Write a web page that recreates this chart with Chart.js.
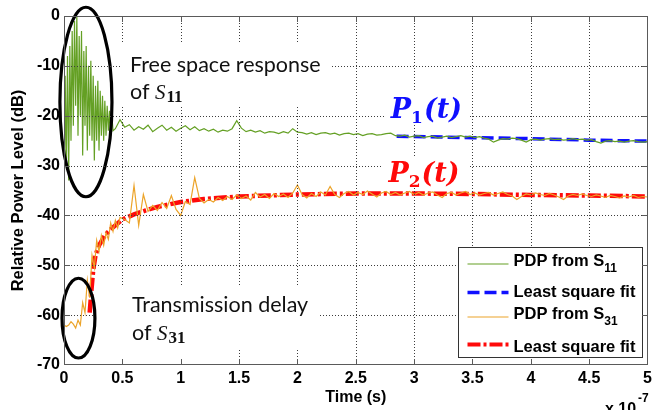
<!DOCTYPE html>
<html lang="en">
<head>
<meta charset="UTF-8">
<title>Power delay profile</title>
<script src="https://cdn.jsdelivr.net/npm/chart.js@4"></script>
<style>
  html, body { margin: 0; padding: 0; background: #fff; }
  #wrap { width: 656px; height: 410px; }
</style>
</head>
<body>
<div id="wrap"><canvas id="pdp" width="656" height="410"></canvas></div>
<script>
// ---- data (time in units of 1e-7 s, level in dB) ----

// PDP from S11: dense ringing near t = 0, sampled every 0.01
const s11EarlyStart = 0, s11EarlyStep = 0.01;
const s11Early = [-43, -12, -30, -8, -33, -6, -25, -3, -22, -1,
  -18, 0, -24, -4, -20, -3, -28, -7, -22, -6,
  -27, -10, -24, -9, -25, -12, -29, -14, -25, -13,
  -27, -15, -24, -16, -25, -17, -24, -18, -23, -19,
  -24, -20, -23];
// rest of the S11 trace, sampled every 0.04
const s11TailStart = 0.44, s11TailStep = 0.04;
const s11Tail = [
  -22.6, -20.8, -22.3, -21.8, -22.9, -22.2, -22.7, -21.9, -23.2, -22.5,
  -21.9, -22.9, -22.3, -23.1, -22.5, -22.0, -22.8, -22.2, -23.0, -22.6,
  -23.1, -22.7, -23.3, -22.9, -23.1, -22.6, -21.0, -22.5, -23.2, -22.9,
  -23.3, -23.0, -23.5, -23.2, -23.3, -23.6, -23.2, -23.5, -22.6, -23.3,
  -23.4, -23.7, -23.4, -23.8, -23.5, -23.4, -23.7, -23.5, -23.9, -23.6,
  -23.5, -23.8, -23.6, -24.0, -23.7, -23.6, -23.9, -23.8, -23.6, -23.5,
  -24.0, -24.1, -23.9, -24.3, -24.1, -24.0, -24.4, -24.2, -24.1, -24.5,
  -24.3, -24.1, -24.4, -24.2, -24.0, -24.3, -24.1, -24.4, -24.2, -24.5,
  -24.7, -25.3, -24.9, -24.6, -24.7, -24.5, -24.6, -24.9, -25.3, -24.8,
  -24.7, -24.9, -24.7, -24.6, -24.8, -24.7, -24.9, -24.8, -24.6, -24.8,
  -24.7, -24.9, -24.8, -25.2, -25.5, -25.1, -25.0, -25.2, -25.1, -25.3,
  -25.1, -25.0, -25.2, -25.3, -25.2];

// PDP from S31: transmission delay then rise, sampled every 0.02
const s31EarlyStart = 0, s31EarlyStep = 0.02;
const s31Early = [-62.0, -62.3, -62.0, -61.3, -61.8, -62.6, -61.0, -62.0, -57.5, -59.5,
  -53.0, -56.5, -48.0, -50.5, -45.0, -47.2, -44.0, -46.0, -43.5, -44.8,
  -41.5, -43.2, -41.0, -42.5, -40.4];
const s31TailStart = 0.52, s31TailStep = 0.04;
const s31Tail = [
  -40.8, -41.5, -34.0, -42.0, -35.8, -39.2, -38.0, -39.0, -37.4, -38.6,
  -36.0, -38.8, -40.0, -37.2, -37.8, -32.4, -36.6, -37.5, -36.8, -37.3,
  -36.4, -37.0, -36.2, -36.8, -35.9, -36.6, -36.1, -36.9, -35.4, -36.3,
  -35.8, -36.6, -35.6, -36.2, -35.7, -36.4, -35.5, -33.9, -35.8, -36.5,
  -35.6, -36.2, -35.3, -35.9, -34.2, -35.8, -36.4, -35.6, -35.2, -35.9,
  -35.4, -35.8, -35.1, -35.7, -36.3, -35.5, -35.2, -35.8, -35.4, -35.9,
  -35.5, -35.2, -35.8, -35.4, -35.9, -35.5, -35.3, -35.9, -36.4, -35.6,
  -35.4, -35.9, -35.5, -35.2, -35.8, -35.5, -35.9, -35.6, -35.4, -35.9,
  -35.6, -35.3, -35.8, -36.1, -36.8, -36.2, -35.7, -35.9, -35.5, -35.8,
  -36.0, -35.6, -35.9, -36.3, -36.8, -36.1, -35.8, -36.0, -35.7, -36.0,
  -36.2, -35.9, -36.1, -36.4, -36.0, -36.2, -36.5, -36.1, -36.3, -36.0,
  -36.4, -36.2, -36.3];

// least square fits
const fit1Time = [2.85, 3.5, 4.0, 4.5, 5.0];
const fit1Values = [-24.1, -24.4, -24.6, -24.9, -25.1];
const fit2Time = [0.22, 0.235, 0.25, 0.27, 0.3, 0.35, 0.4, 0.5, 0.6, 0.7, 0.8, 1.0, 1.2, 1.5, 2.0, 2.5, 3.0, 3.5, 4.0, 4.5, 5.0];
const fit2Values = [-59.5, -55, -51, -48, -46, -44, -42.8, -40.8, -39.8, -39, -38.3, -37.3, -36.7, -36.2, -35.8, -35.6, -35.6, -35.7, -35.9, -36.0, -36.2];

const GREEN = '#64a024';
const ORANGE = '#eca42a';
const BLUE = '#1010ff';
const RED = '#ff0a0a';
const AXIS_FONT = { family: '"Liberation Sans", Arial, sans-serif', size: 16, weight: 'bold' };
const SANS = '"Lato", "Open Sans", sans-serif';

// text boxes with white background (data coords: x0, y0, x1, y1)
const textBoxes = [
  [0.479, -5.4, 2.295, -18.25],
  [0.265, -54.35, 2.175, -66.6],
  [0.265, -54.35, 1.2, -70],
  [2.748, -14.8, 3.459, -21.7],
  [2.731, -28.1, 3.459, -34.1]
];

function sampled(start, step, values) {
  return values.map((v, i) => ({ x: +(start + i * step).toFixed(3), y: v }));
}
function paired(times, values) {
  return times.map((t, i) => ({ x: t, y: values[i] }));
}

function drawRuns(ctx, x, y, runs) {
  ctx.textAlign = 'left';
  for (const r of runs) {
    ctx.font = r.font;
    ctx.fillStyle = r.color || '#000';
    ctx.fillText(r.text, x, y + (r.dy || 0));
    x += ctx.measureText(r.text).width + (r.gap || 0);
  }
}

function legendRectOf(chart) {
  const a = chart.chartArea, w = 184, h = 110;
  return { x: Math.round(a.right - 6 - w) + 0.5, y: Math.round(a.bottom - 8 - h) + 0.5, w, h };
}

// dotted grid as single pixels, leaving out the text boxes and the legend
function drawGrid(chart, legend) {
  const { ctx, chartArea: a, scales: { x: xs, y: ys } } = chart;
  const holes = textBoxes.map(([x0, y0, x1, y1]) => ({
    l: xs.getPixelForValue(x0), r: xs.getPixelForValue(x1),
    t: ys.getPixelForValue(y0), b: ys.getPixelForValue(y1)
  }));
  holes.push({ l: legend.x - 1, r: legend.x + legend.w + 1, t: legend.y - 1, b: legend.y + legend.h + 1 });
  const hidden = (px, py) => holes.some(h => px >= h.l && px <= h.r && py >= h.t && py <= h.b);
  const L = Math.round(a.left), R = Math.round(a.right), T = Math.round(a.top), B = Math.round(a.bottom);
  ctx.save();
  ctx.fillStyle = '#3c3c3c';
  xs.ticks.forEach(t => {
    if (t.value <= xs.min || t.value >= xs.max) return;
    const px = Math.round(xs.getPixelForValue(t.value));
    for (let py = T + 1; py < B - 1; py += 3) if (!hidden(px, py)) ctx.fillRect(px, py, 1, 1);
  });
  ys.ticks.forEach(t => {
    if (t.value <= ys.min || t.value >= ys.max) return;
    const py = Math.round(ys.getPixelForValue(t.value));
    for (let px = L + 1; px < R - 1; px += 3) if (!hidden(px, py)) ctx.fillRect(px, py, 1, 1);
  });
  ctx.restore();
}

// frame with inward tick marks on all four sides
function drawFrame(chart) {
  const { ctx, chartArea: a, scales: { x: xs, y: ys } } = chart;
  const L = Math.round(a.left), R = Math.round(a.right), T = Math.round(a.top), B = Math.round(a.bottom);
  ctx.save();
  ctx.fillStyle = '#5a5a5a';
  ctx.fillRect(L, T, R - L, 1);
  ctx.fillRect(L, B - 1, R - L, 1);
  ctx.fillRect(L, T, 1, B - T);
  ctx.fillRect(R - 1, T, 1, B - T);
  xs.ticks.forEach(t => {
    const px = Math.round(xs.getPixelForValue(t.value));
    ctx.fillRect(Math.min(px, R - 1), B - 6, 1, 6);
    ctx.fillRect(Math.min(px, R - 1), T, 1, 6);
  });
  ys.ticks.forEach(t => {
    const py = Math.round(ys.getPixelForValue(t.value));
    ctx.fillRect(L, Math.min(py, B - 1), 6, 1);
    ctx.fillRect(R - 6, Math.min(py, B - 1), 6, 1);
  });
  ctx.restore();
}

function drawAnnotations(chart) {
  const { ctx, scales: { x: xs, y: ys } } = chart;
  const X = v => xs.getPixelForValue(v), Y = v => ys.getPixelForValue(v);
  ctx.save();
  ctx.setLineDash([]);
  ctx.strokeStyle = '#000';
  ctx.lineWidth = 3.2;
  const ellipses = [[0.188, -17.25, 0.223, 19.0], [0.124, -60.6, 0.141, 8.0]];
  ellipses.forEach(([cx, cy, rx, ry]) => {
    ctx.beginPath();
    ctx.ellipse(X(cx), Y(cy), X(cx + rx) - X(cx), Y(cy - ry) - Y(cy), 0, 0, Math.PI * 2);
    ctx.stroke();
  });
  ctx.textBaseline = 'alphabetic';
  const body = '21.5px ' + SANS;
  const sItal = 'italic 21px "Liberation Serif", serif';
  const sSub = 'bold 17px "Liberation Serif", serif';
  drawRuns(ctx, X(0.565), Y(-11.2), [{ text: 'Free space response', font: body, color: '#111' }]);
  drawRuns(ctx, X(0.565), Y(-16.6), [
    { text: 'of ', font: body, color: '#111' },
    { text: 'S', font: sItal, color: '#111', gap: 1 },
    { text: '11', font: sSub, color: '#111', dy: 3 }
  ]);
  drawRuns(ctx, X(0.582), Y(-59.4), [{ text: 'Transmission delay', font: body, color: '#111' }]);
  drawRuns(ctx, X(0.582), Y(-64.9), [
    { text: 'of ', font: body, color: '#111' },
    { text: 'S', font: sItal, color: '#111', gap: 1 },
    { text: '31', font: sSub, color: '#111', dy: 3 }
  ]);
  const pBig = 'bold italic 27px "DejaVu Serif", serif';
  const pSub = 'bold 17px "DejaVu Serif", serif';
  drawRuns(ctx, X(2.8), Y(-20.4), [
    { text: 'P', font: pBig, color: BLUE },
    { text: '1', font: pSub, color: BLUE, dy: 5, gap: 1 },
    { text: '(t)', font: pBig, color: BLUE }
  ]);
  drawRuns(ctx, X(2.78), Y(-33.2), [
    { text: 'P', font: pBig, color: RED },
    { text: '2', font: pSub, color: RED, dy: 5, gap: 1 },
    { text: '(t)', font: pBig, color: RED }
  ]);
  // x exponent
  ctx.textBaseline = 'top';
  ctx.fillStyle = '#000';
  ctx.font = 'bold 16px "Liberation Sans", Arial, sans-serif';
  ctx.fillText('x 10', 605, 402);
  ctx.font = 'bold 12px "Liberation Sans", Arial, sans-serif';
  ctx.fillText('-7', 638, 393);
  ctx.restore();
}

function drawLegend(chart, box) {
  const ctx = chart.ctx;
  ctx.save();
  ctx.fillStyle = '#fff';
  ctx.fillRect(box.x, box.y, box.w, box.h);
  ctx.strokeStyle = '#333';
  ctx.lineWidth = 1;
  ctx.setLineDash([]);
  ctx.strokeRect(box.x, box.y, box.w, box.h);
  const rows = [
    { ds: 0, text: 'PDP from S', sub: '11', ty: 14, sy: 16.5 },
    { ds: 2, text: 'Least square fit', ty: 44.5, sy: 45 },
    { ds: 1, text: 'PDP from S', sub: '31', ty: 67, sy: 69.5 },
    { ds: 3, text: 'Least square fit', ty: 99.5, sy: 97 }
  ];
  rows.forEach(r => {
    const d = chart.data.datasets[r.ds];
    ctx.save();
    ctx.strokeStyle = d.borderColor;
    ctx.lineWidth = Math.min(d.borderWidth, 4);
    ctx.setLineDash(d.borderDash || []);
    ctx.beginPath();
    ctx.moveTo(box.x + 9, box.y + r.sy);
    ctx.lineTo(box.x + 50, box.y + r.sy);
    ctx.stroke();
    ctx.restore();
    ctx.textBaseline = 'middle';
    ctx.textAlign = 'left';
    ctx.fillStyle = '#000';
    ctx.font = 'bold 16.5px "Liberation Sans", Arial, sans-serif';
    ctx.fillText(r.text, box.x + 55, box.y + r.ty);
    if (r.sub) {
      const w = ctx.measureText(r.text).width;
      ctx.font = 'bold 12px "Liberation Sans", Arial, sans-serif';
      ctx.fillText(r.sub, box.x + 55 + w, box.y + r.ty + 7);
    }
  });
  ctx.restore();
}

const overlay = {
  id: 'overlay',
  afterDraw(chart) {
    const box = legendRectOf(chart);
    drawAnnotations(chart);
    drawLegend(chart, box);
    drawGrid(chart, box);
    drawFrame(chart);
  }
};

new Chart(document.getElementById('pdp'), {
  type: 'line',
  data: {
    datasets: [
      { label: 'PDP from S11', data: sampled(s11EarlyStart, s11EarlyStep, s11Early).concat(sampled(s11TailStart, s11TailStep, s11Tail)),
        borderColor: GREEN, borderWidth: 1.2 },
      { label: 'PDP from S31', data: sampled(s31EarlyStart, s31EarlyStep, s31Early).concat(sampled(s31TailStart, s31TailStep, s31Tail)),
        borderColor: ORANGE, borderWidth: 1.2 },
      { label: 'Least square fit', data: paired(fit1Time, fit1Values),
        borderColor: BLUE, borderWidth: 3.5, borderDash: [12, 5] },
      { label: 'Least square fit', data: paired(fit2Time, fit2Values),
        borderColor: RED, borderWidth: 4.5, borderDash: [13, 3, 3, 3] }
    ]
  },
  options: {
    responsive: false,
    animation: false,
    devicePixelRatio: 1,
    layout: { padding: { left: 5, top: 16, right: 8, bottom: 0 } },
    elements: { line: { tension: 0, fill: false }, point: { radius: 0 } },
    plugins: { legend: { display: false }, tooltip: { enabled: false } },
    scales: {
      x: {
        type: 'linear', min: 0, max: 5,
        ticks: { stepSize: 0.5, padding: 4, maxRotation: 0, autoSkip: false, font: AXIS_FONT, color: '#000',
          callback: v => String(+v.toFixed(1)) },
        grid: { display: false, drawTicks: false },
        border: { display: false },
        title: { display: true, text: 'Time (s)', font: AXIS_FONT, color: '#000', padding: { top: 0, bottom: 3 } },
        afterFit(s) { s.height = 45; }
      },
      y: {
        type: 'linear', min: -70, max: 0,
        ticks: { stepSize: 10, padding: 4, font: AXIS_FONT, color: '#000' },
        grid: { display: false, drawTicks: false },
        border: { display: false },
        title: { display: true, text: 'Relative Power Level (dB)', font: { ...AXIS_FONT, size: 16.5 }, color: '#000', padding: { top: 4, bottom: 0 } },
        afterFit(s) { s.width = 59; }
      }
    }
  },
  plugins: [overlay]
});
</script>
</body>
</html>
